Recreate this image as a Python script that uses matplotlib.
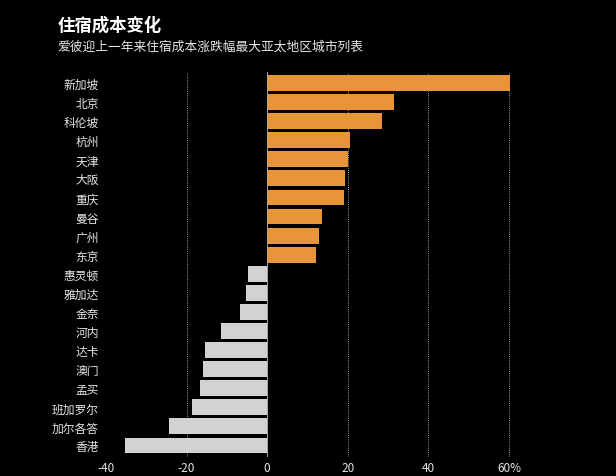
import matplotlib.pyplot as plt
import numpy as np

plt.rcParams['font.family'] = ['Noto Sans CJK SC', 'DejaVu Sans']

cities = ['新加坡', '北京', '科伦坡', '杭州', '天津', '大阪', '重庆', '曼谷', '广州', '东京',
          '惠灵顿', '雅加达', '金奈', '河内', '达卡', '澳门', '孟买', '班加罗尔', '加尔各答', '香港']
changes = [60.3, 31.4, 28.5, 20.6, 20.0, 19.2, 19.0, 13.6, 12.9, 12.1,
           -4.7, -5.3, -6.7, -11.5, -15.4, -15.8, -16.7, -18.7, -24.4, -35.3]
xticks = [-40, -20, 0, 20, 40, 60]
xtick_labels = ['-40', '-20', '0', '20', '40', '60%']

fig = plt.figure(figsize=(6.16, 4.77), dpi=100, facecolor='black')
ax = fig.add_axes([0.172, 0.04, 0.664, 0.808], facecolor='black')

y = np.arange(len(cities))
colors = ['#e8953a' if v > 0 else '#d2d2d2' for v in changes]

# grid lines go under the bars
for g in [-20, 20, 40, 60]:
    ax.axvline(g, color='#9a9a9a', lw=0.7, ls=(0, (1, 1.2)), zorder=0)
ax.axvline(0, color='#aaaaaa', lw=0.7, zorder=3)

ax.barh(y, changes, height=0.83, color=colors, zorder=2)

ax.set_xlim(-40, 61.5)
ax.set_ylim(len(cities) - 0.4, -0.6)
ax.set_yticks(y)
ax.set_yticklabels(cities)
ax.set_xticks(xticks)
ax.set_xticklabels(xtick_labels)
ax.tick_params(axis='y', length=0, pad=5, labelsize=8.5, labelcolor='#e6e6e6')
ax.tick_params(axis='x', length=0, pad=3, labelsize=8.5, labelcolor='#e6e6e6')
for s in ax.spines.values():
    s.set_visible(False)

fig.text(0.094, 0.947, '住宿成本变化', color='white', fontsize=12.5,
         fontweight='bold', va='center')
fig.text(0.094, 0.901, '爱彼迎上一年来住宿成本涨跌幅最大亚太地区城市列表',
         color='#e6e6e6', fontsize=9.2, va='center')

plt.savefig('out.png', facecolor='black')
